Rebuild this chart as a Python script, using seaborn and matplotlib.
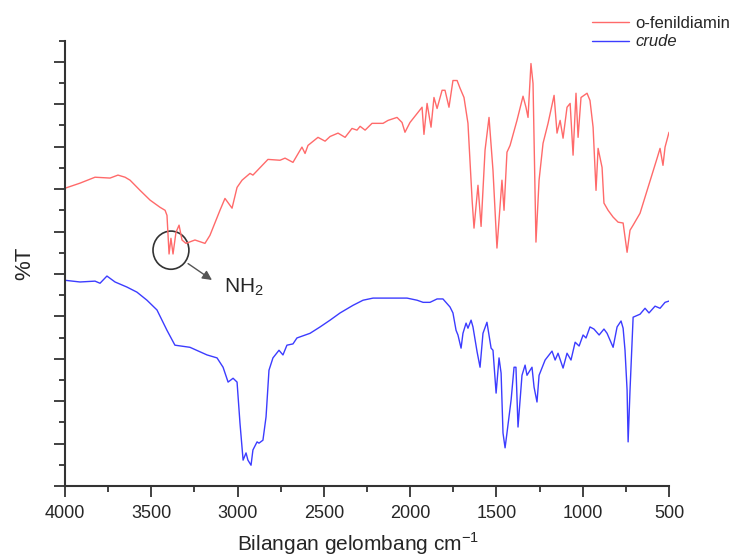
import numpy as np
import pandas as pd
import seaborn as sns
import matplotlib.pyplot as plt
from matplotlib.patches import Ellipse
from matplotlib.lines import Line2D
from matplotlib.ticker import MultipleLocator

# Spektrum o-fenildiamin (bilangan gelombang, %T relatif)
wn_ofd = [4000, 3913, 3826, 3739, 3693, 3652, 3623, 3565, 3507, 3449, 3420, 3409, 3397, 3386,
          3374, 3357, 3339, 3322, 3299, 3247, 3189, 3160, 3102, 3073, 3032, 3003, 2974, 2928,
          2911, 2824, 2754, 2725, 2679, 2627, 2609, 2592, 2534, 2493, 2464, 2418, 2377, 2337,
          2308, 2290, 2261, 2221, 2157, 2128, 2076, 2047, 2030, 2001, 1931, 1920, 1902, 1879,
          1862, 1844, 1815, 1798, 1775, 1752, 1728, 1711, 1688, 1665, 1641, 1630, 1607, 1589,
          1566, 1543, 1520, 1497, 1468, 1456, 1439, 1421, 1381, 1346, 1329, 1317, 1300, 1288,
          1271, 1253, 1230, 1201, 1166, 1149, 1131, 1114, 1091, 1073, 1056, 1039, 1027, 1010,
          975, 958, 940, 923, 911, 888, 877, 853, 824, 795, 766, 743, 726, 708, 668, 569,
          552, 535, 523, 500]
t_ofd = [7.02, 7.14, 7.28, 7.26, 7.33, 7.28, 7.21, 6.97, 6.74, 6.57, 6.50, 6.38, 5.47, 5.84,
         5.47, 5.98, 6.15, 5.80, 5.72, 5.80, 5.72, 5.91, 6.50, 6.78, 6.55, 7.04, 7.21, 7.37,
         7.33, 7.70, 7.68, 7.73, 7.63, 7.99, 7.84, 8.03, 8.22, 8.13, 8.24, 8.32, 8.22, 8.43,
         8.39, 8.48, 8.39, 8.55, 8.55, 8.62, 8.69, 8.57, 8.34, 8.57, 8.93, 8.29, 9.02, 8.46,
         9.16, 8.90, 9.33, 9.33, 8.93, 9.56, 9.56, 9.38, 9.16, 8.55, 6.74, 6.08, 7.09, 6.12,
         7.92, 8.69, 7.44, 5.61, 7.21, 6.50, 7.87, 8.03, 8.62, 9.19, 8.93, 8.69, 9.96, 9.49,
         5.75, 7.21, 8.08, 8.55, 9.21, 8.32, 8.62, 8.20, 8.93, 9.02, 7.80, 9.26, 8.22, 9.16,
         9.26, 9.09, 8.46, 6.97, 7.96, 7.51, 6.67, 6.50, 6.34, 6.22, 6.20, 5.51, 6.03, 6.15,
         6.43, 7.73, 7.96, 7.56, 7.99, 8.34]

# Spektrum crude
wn_crude = [4000, 3913, 3826, 3797, 3757, 3710, 3641, 3583, 3525, 3467, 3409, 3363, 3276, 3177,
            3119, 3084, 3055, 3026, 3003, 2986, 2968, 2951, 2940, 2922, 2911, 2887, 2876, 2853,
            2835, 2818, 2795, 2760, 2737, 2714, 2679, 2656, 2580, 2522, 2464, 2406, 2331, 2273,
            2215, 2018, 1960, 1925, 1885, 1844, 1810, 1769, 1752, 1734, 1723, 1705, 1694, 1676,
            1665, 1647, 1636, 1612, 1595, 1578, 1555, 1531, 1520, 1502, 1485, 1473, 1462, 1450,
            1439, 1415, 1398, 1387, 1375, 1352, 1334, 1323, 1305, 1294, 1282, 1265, 1253, 1218,
            1178, 1160, 1143, 1114, 1091, 1068, 1044, 1021, 998, 981, 958, 935, 905, 877, 859,
            824, 801, 778, 766, 755, 743, 737, 726, 708, 668, 639, 616, 581, 552, 523, 500]
t_crude = [4.85, 4.81, 4.83, 4.78, 4.95, 4.81, 4.69, 4.57, 4.38, 4.15, 3.67, 3.32, 3.27, 3.09,
           3.02, 2.80, 2.45, 2.54, 2.45, 1.48, 0.61, 0.78, 0.61, 0.49, 0.85, 1.04, 1.01, 1.08,
           1.63, 2.73, 3.02, 3.20, 3.09, 3.32, 3.35, 3.49, 3.60, 3.75, 3.91, 4.08, 4.26, 4.38,
           4.43, 4.43, 4.38, 4.33, 4.33, 4.41, 4.41, 4.22, 4.08, 3.67, 3.56, 3.25, 3.60, 3.84,
           3.72, 3.91, 3.75, 3.16, 2.80, 3.60, 3.86, 3.25, 3.20, 2.19, 3.02, 2.66, 1.25, 0.90,
           1.25, 2.03, 2.80, 2.80, 1.39, 2.61, 2.85, 2.61, 2.73, 2.80, 2.33, 1.98, 2.61, 2.97,
           3.18, 2.97, 3.13, 2.78, 3.13, 2.97, 3.39, 3.30, 3.56, 3.49, 3.75, 3.70, 3.56, 3.70, 3.60,
           3.27, 3.75, 3.89, 3.72, 3.20, 2.26, 1.04, 2.26, 3.98, 4.05, 4.19, 4.08, 4.24, 4.19, 4.33, 4.36]

df = pd.concat([
    pd.DataFrame({"wn": wn_ofd, "T": t_ofd, "sampel": "o-fenildiamin"}),
    pd.DataFrame({"wn": wn_crude, "T": t_crude, "sampel": "crude"}),
])

sns.set_style("ticks")
plt.rcParams['font.family'] = ['Liberation Sans', 'DejaVu Sans']

fig = plt.figure(figsize=(7.36, 5.59), dpi=100)
ax = fig.add_axes([0.0883, 0.1306, 0.8207, 0.7967])

sns.lineplot(data=df, x="wn", y="T", hue="sampel", estimator=None,
             palette={"o-fenildiamin": "#ff6a6a", "crude": "#3c3cff"},
             linewidth=1.0, ax=ax, legend=False)

ax.set_xlim(4000, 500)
ax.set_ylim(0, 10.5)
ax.xaxis.set_major_locator(MultipleLocator(500))
ax.xaxis.set_minor_locator(MultipleLocator(250))
ax.yaxis.set_major_locator(MultipleLocator(1))
ax.yaxis.set_minor_locator(MultipleLocator(0.5))
ax.set_yticklabels([])
ax.tick_params(axis='both', which='major', length=8, width=1.3, color='#333333', direction='out')
ax.tick_params(axis='both', which='minor', length=4, width=1.3, color='#333333', direction='out')
ax.tick_params(axis='x', labelsize=13, pad=6)
for s in ['top', 'right']:
    ax.spines[s].set_visible(False)
for s in ['left', 'bottom']:
    ax.spines[s].set_linewidth(1.5)
    ax.spines[s].set_color('#333333')

ax.set_xlabel("Bilangan gelombang cm$^{\\mathregular{-1}}$", fontsize=15)
ax.xaxis.set_label_coords(0.485, -0.1)
ax.set_ylabel("%T", fontsize=16, labelpad=10)

# lingkaran dan panah NH2
ax.add_patch(Ellipse((3386, 5.56), width=208, height=0.9, fill=False,
                     edgecolor='#333333', linewidth=1.2))
ax.annotate("", xy=(3135, 4.82), xytext=(3300, 5.28),
            arrowprops=dict(arrowstyle='-|>', color='#555555', lw=1.0,
                            mutation_scale=14))
ax.text(3080, 4.68, "NH$_\\mathregular{2}$", fontsize=15, va='center', ha='left')

# legenda
handles = [Line2D([], [], color="#ff6a6a", lw=1.0),
           Line2D([], [], color="#3c3cff", lw=1.0)]
leg = fig.legend(handles, ["o-fenildiamin", "crude"], loc='upper right',
                 bbox_to_anchor=(1.012, 0.998), frameon=False, fontsize=12,
                 handlelength=2.2, labelspacing=0.2, handletextpad=0.35)
leg.get_texts()[1].set_style('italic')

fig.savefig("out.png", dpi=100)
